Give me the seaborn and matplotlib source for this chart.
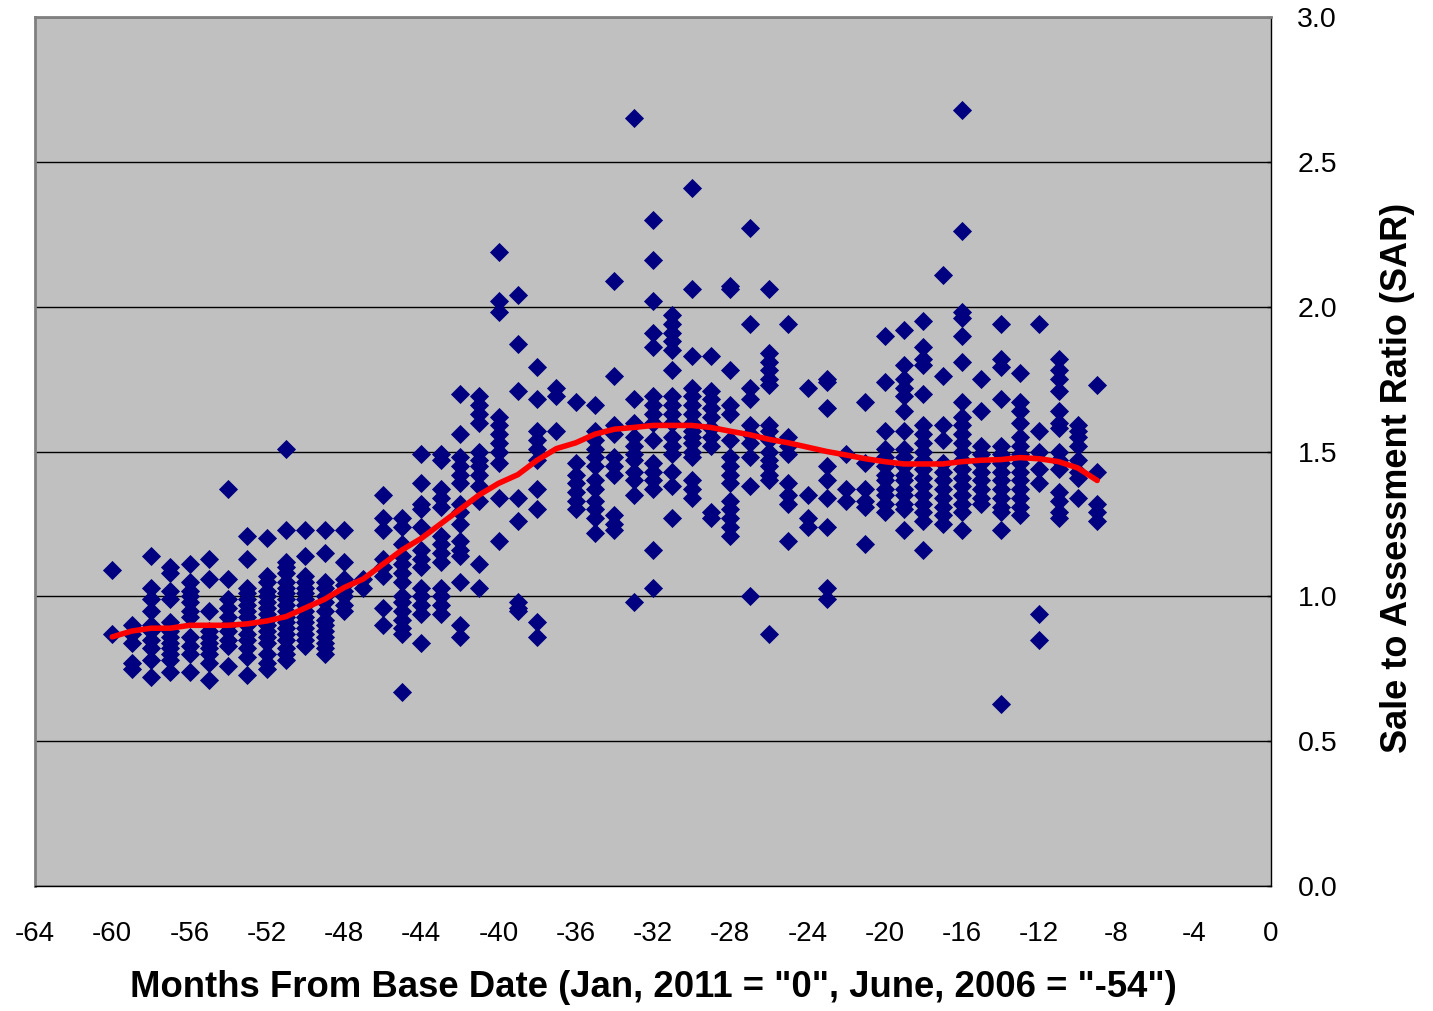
import matplotlib
matplotlib.use('Agg')
import matplotlib.pyplot as plt
import pandas as pd
import seaborn as sns

# sale to assessment ratio per month (months from base date)
sar_m60 = [1.09, 0.87]
sar_m59 = [0.90, 0.87, 0.84, 0.77, 0.75]
sar_m58 = [1.14, 1.03, 0.99, 0.95, 0.90, 0.88, 0.85, 0.82, 0.78, 0.72]
sar_m57 = [1.10, 1.08, 1.02, 0.99, 0.91, 0.88, 0.86, 0.84, 0.82, 0.80, 0.78, 0.74]
sar_m56 = [1.11, 1.05, 1.02, 1.00, 0.98, 0.95, 0.93, 0.86, 0.83, 0.80, 0.74]
sar_m55 = [1.13, 1.06, 0.95, 0.88, 0.86, 0.84, 0.82, 0.80, 0.77, 0.71]
sar_m54 = [1.37, 1.06, 0.99, 0.96, 0.93, 0.90, 0.88, 0.85, 0.83, 0.76]
sar_m53 = [1.21, 1.13, 1.03, 1.01, 0.99, 0.97, 0.95, 0.93, 0.90, 0.87, 0.85, 0.82, 0.79, 0.73]
sar_m52 = [1.20, 1.07, 1.05, 1.02, 1.00, 0.98, 0.96, 0.94, 0.92, 0.90, 0.88, 0.86, 0.84, 0.80, 0.77, 0.75]
sar_m51 = [1.51, 1.23, 1.12, 1.10, 1.08, 1.05, 1.03, 1.01, 0.99, 0.97, 0.95, 0.93, 0.91, 0.89,
           0.87, 0.85, 0.82, 0.80, 0.78]
sar_m50 = [1.23, 1.14, 1.07, 1.05, 1.03, 1.01, 0.99, 0.97, 0.95, 0.93, 0.91, 0.89, 0.87, 0.85, 0.83]
sar_m49 = [1.23, 1.15, 1.05, 1.03, 1.00, 0.98, 0.95, 0.92, 0.90, 0.88, 0.86, 0.84, 0.82, 0.80]
sar_m48 = [1.23, 1.12, 1.06, 1.04, 1.02, 1.00, 0.97, 0.95]
sar_m47 = [1.06, 1.03]
sar_m46 = [1.35, 1.27, 1.23, 1.13, 1.10, 1.07, 0.96, 0.90]
sar_m45 = [1.27, 1.24, 1.18, 1.14, 1.11, 1.08, 1.05, 1.00, 0.98, 0.95, 0.92, 0.89, 0.87, 0.67]
sar_m44 = [1.49, 1.39, 1.32, 1.30, 1.24, 1.16, 1.13, 1.10, 1.03, 1.00, 0.97, 0.94, 0.84]
sar_m43 = [1.49, 1.47, 1.37, 1.34, 1.31, 1.21, 1.18, 1.15, 1.12, 1.03, 1.00, 0.97, 0.94]
sar_m42 = [1.70, 1.56, 1.48, 1.45, 1.42, 1.39, 1.32, 1.29, 1.25, 1.19, 1.16, 1.14, 1.05, 0.90, 0.86]
sar_m41 = [1.69, 1.66, 1.63, 1.60, 1.50, 1.47, 1.45, 1.42, 1.38, 1.33, 1.11, 1.03]
sar_m40 = [2.19, 2.02, 1.98, 1.62, 1.59, 1.56, 1.53, 1.50, 1.46, 1.34, 1.19]
sar_m39 = [2.04, 1.87, 1.71, 1.34, 1.26, 0.98, 0.96, 0.95]
sar_m38 = [1.79, 1.68, 1.57, 1.54, 1.51, 1.47, 1.37, 1.30, 0.91, 0.86]
sar_m37 = [1.72, 1.69, 1.57]
sar_m36 = [1.67, 1.46, 1.42, 1.39, 1.36, 1.33, 1.30]
sar_m35 = [1.66, 1.57, 1.54, 1.51, 1.48, 1.45, 1.40, 1.37, 1.33, 1.30, 1.27, 1.22]
sar_m34 = [2.09, 1.76, 1.59, 1.56, 1.48, 1.45, 1.42, 1.28, 1.25, 1.23]
sar_m33 = [2.65, 1.68, 1.60, 1.55, 1.52, 1.49, 1.47, 1.43, 1.40, 1.35, 0.98]
sar_m32 = [2.30, 2.16, 2.02, 1.91, 1.86, 1.69, 1.66, 1.63, 1.60, 1.54, 1.46, 1.43, 1.40, 1.37, 1.16, 1.03]
sar_m31 = [1.97, 1.94, 1.91, 1.88, 1.85, 1.78, 1.69, 1.66, 1.63, 1.60, 1.55, 1.52, 1.49, 1.43, 1.38, 1.27]
sar_m30 = [2.41, 2.06, 1.83, 1.72, 1.69, 1.66, 1.63, 1.60, 1.57, 1.55, 1.53, 1.50, 1.48, 1.40, 1.37, 1.34]
sar_m29 = [1.83, 1.71, 1.68, 1.65, 1.62, 1.58, 1.55, 1.52, 1.29, 1.27]
sar_m28 = [2.07, 2.06, 1.78, 1.66, 1.63, 1.54, 1.48, 1.45, 1.42, 1.39, 1.33, 1.30, 1.27, 1.24, 1.21]
sar_m27 = [2.27, 1.94, 1.72, 1.68, 1.59, 1.56, 1.53, 1.48, 1.38, 1.00]
sar_m26 = [2.06, 1.84, 1.81, 1.78, 1.75, 1.73, 1.59, 1.57, 1.54, 1.50, 1.47, 1.45, 1.42, 1.40, 0.87]
sar_m25 = [1.94, 1.55, 1.52, 1.49, 1.39, 1.35, 1.32, 1.19]
sar_m24 = [1.72, 1.35, 1.27, 1.24]
sar_m23 = [1.75, 1.74, 1.65, 1.45, 1.40, 1.34, 1.24, 1.03, 0.99]
sar_m22 = [1.49, 1.37, 1.33]
sar_m21 = [1.67, 1.46, 1.37, 1.33, 1.31, 1.18]
sar_m20 = [1.90, 1.74, 1.57, 1.51, 1.48, 1.45, 1.42, 1.40, 1.37, 1.35, 1.32, 1.29]
sar_m19 = [1.92, 1.80, 1.75, 1.72, 1.69, 1.64, 1.57, 1.51, 1.48, 1.45, 1.42, 1.40, 1.37, 1.35,
           1.32, 1.30, 1.23]
sar_m18 = [1.95, 1.86, 1.82, 1.80, 1.70, 1.59, 1.56, 1.53, 1.50, 1.47, 1.44, 1.41, 1.38, 1.35,
           1.32, 1.29, 1.26, 1.16]
sar_m17 = [2.11, 1.76, 1.59, 1.54, 1.46, 1.43, 1.40, 1.37, 1.34, 1.31, 1.28, 1.25]
sar_m16 = [2.68, 2.26, 1.98, 1.96, 1.90, 1.81, 1.67, 1.62, 1.59, 1.56, 1.53, 1.50, 1.47, 1.44,
           1.41, 1.38, 1.35, 1.32, 1.29, 1.23]
sar_m15 = [1.75, 1.64, 1.52, 1.49, 1.46, 1.43, 1.40, 1.37, 1.34, 1.32]
sar_m14 = [1.94, 1.82, 1.79, 1.68, 1.52, 1.49, 1.46, 1.43, 1.40, 1.37, 1.34, 1.31, 1.29, 1.23, 0.63]
sar_m13 = [1.77, 1.67, 1.64, 1.60, 1.55, 1.52, 1.49, 1.46, 1.43, 1.40, 1.37, 1.34, 1.31, 1.28]
sar_m12 = [1.94, 1.57, 1.50, 1.44, 1.39, 0.94, 0.85]
sar_m11 = [1.82, 1.78, 1.75, 1.71, 1.64, 1.60, 1.58, 1.50, 1.47, 1.44, 1.36, 1.33, 1.29, 1.27]
sar_m10 = [1.59, 1.57, 1.55, 1.52, 1.47, 1.43, 1.41, 1.34]
sar_m9 = [1.73, 1.43, 1.32, 1.29, 1.26]

# smoothed trend (red line)
trend_months = list(range(-60, -8))
trend_sar = [0.86, 0.88, 0.89, 0.89, 0.90, 0.90, 0.90, 0.905, 0.915, 0.93, 0.96, 0.99, 1.03,
             1.06, 1.11, 1.16, 1.20, 1.25, 1.30, 1.35, 1.39, 1.42, 1.47, 1.51, 1.53, 1.56,
             1.577, 1.583, 1.59, 1.59, 1.59, 1.583, 1.57, 1.558, 1.542, 1.53, 1.515, 1.50,
             1.488, 1.475, 1.465, 1.457, 1.457, 1.457, 1.465, 1.47, 1.472, 1.479, 1.475,
             1.465, 1.443, 1.40]

x_ticks = list(range(-64, 1, 4))
y_ticks = [0.0, 0.5, 1.0, 1.5, 2.0, 2.5, 3.0]

columns = {
    -60: sar_m60, -59: sar_m59, -58: sar_m58, -57: sar_m57, -56: sar_m56, -55: sar_m55,
    -54: sar_m54, -53: sar_m53, -52: sar_m52, -51: sar_m51, -50: sar_m50, -49: sar_m49,
    -48: sar_m48, -47: sar_m47, -46: sar_m46, -45: sar_m45, -44: sar_m44, -43: sar_m43,
    -42: sar_m42, -41: sar_m41, -40: sar_m40, -39: sar_m39, -38: sar_m38, -37: sar_m37,
    -36: sar_m36, -35: sar_m35, -34: sar_m34, -33: sar_m33, -32: sar_m32, -31: sar_m31,
    -30: sar_m30, -29: sar_m29, -28: sar_m28, -27: sar_m27, -26: sar_m26, -25: sar_m25,
    -24: sar_m24, -23: sar_m23, -22: sar_m22, -21: sar_m21, -20: sar_m20, -19: sar_m19,
    -18: sar_m18, -17: sar_m17, -16: sar_m16, -15: sar_m15, -14: sar_m14, -13: sar_m13,
    -12: sar_m12, -11: sar_m11, -10: sar_m10, -9: sar_m9,
}

points = pd.DataFrame([(m, v) for m, vals in columns.items() for v in vals], columns=['month', 'sar'])
trend = pd.DataFrame({'month': trend_months, 'sar': trend_sar})

sns.set_style('white')
plt.rcParams['font.family'] = ['Liberation Sans', 'DejaVu Sans']
plt.rcParams['axes.unicode_minus'] = False
plt.rcParams['text.color'] = 'black'
plt.rcParams['axes.labelcolor'] = 'black'
plt.rcParams['xtick.color'] = 'black'
plt.rcParams['ytick.color'] = 'black'

fig = plt.figure(figsize=(14.33, 10.11), dpi=100)
ax = fig.add_axes([35 / 1433, 1 - 886 / 1011, 1236 / 1433, 869 / 1011])
ax.set_facecolor('#C0C0C0')

sns.scatterplot(data=points, x='month', y='sar', marker='D', s=95, color='#000080',
                edgecolor='#000080', linewidth=0, ax=ax, zorder=3)
sns.lineplot(data=trend, x='month', y='sar', color='#FF0000', linewidth=4, ax=ax, zorder=4)

ax.set_xlim(-64, 0)
ax.set_ylim(0, 3)
ax.set_xticks(x_ticks)
ax.set_yticks(y_ticks)
ax.set_yticklabels([f'{t:.1f}' for t in y_ticks])
ax.yaxis.tick_right()
ax.yaxis.set_label_position('right')
ax.tick_params(axis='x', direction='out', length=7, width=1, colors='black', pad=18, labelsize=20)
ax.tick_params(axis='y', direction='in', length=3, width=1, colors='black', pad=19, labelsize=20.5)
ax.grid(axis='y', color='black', linewidth=1)
ax.grid(axis='x', visible=False)
ax.set_axisbelow(True)

for side in ['left', 'top']:
    ax.spines[side].set_color('#808080')
    ax.spines[side].set_linewidth(2)
for side in ['bottom', 'right']:
    ax.spines[side].set_color('black')
    ax.spines[side].set_linewidth(1)

ax.set_xlabel('Months From Base Date (Jan, 2011 = "0", June, 2006 = "-54")',
              fontsize=26.3, fontweight='bold', va='center')
ax.xaxis.set_label_coords(0.5, -0.117)
ax.set_ylabel('Sale to Assessment Ratio (SAR)', fontsize=26, fontweight='bold', va='center',
              rotation=90)
ax.yaxis.set_label_coords(1.1027, 0.4695)

fig.savefig('out.png', dpi=100)
